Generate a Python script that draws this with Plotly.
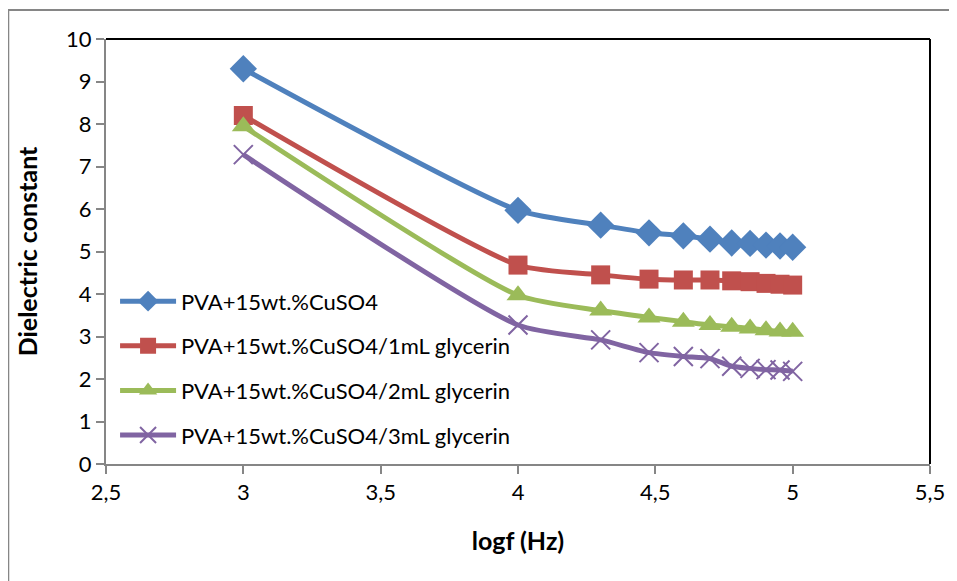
import plotly.graph_objects as go

logf = [3, 4, 4.301, 4.477, 4.602, 4.699, 4.778, 4.845, 4.903, 4.954, 5]
s0 = [9.3, 5.97, 5.62, 5.44, 5.37, 5.29, 5.2, 5.19, 5.15, 5.13, 5.1]
s1 = [8.2, 4.68, 4.45, 4.35, 4.33, 4.33, 4.31, 4.29, 4.25, 4.23, 4.21]
s2 = [7.95, 3.97, 3.61, 3.45, 3.35, 3.27, 3.23, 3.19, 3.15, 3.12, 3.11]
s3 = [7.28, 3.27, 2.92, 2.62, 2.53, 2.48, 2.3, 2.25, 2.22, 2.21, 2.18]
names = ["PVA+15wt.%CuSO4", "PVA+15wt.%CuSO4/1mL glycerin",
         "PVA+15wt.%CuSO4/2mL glycerin", "PVA+15wt.%CuSO4/3mL glycerin"]
x_ticks = [2.5, 3, 3.5, 4, 4.5, 5, 5.5]
y_ticks = list(range(0, 11))

colors = ["#4F81BD", "#C0504D", "#9BBB59", "#8064A2"]
symbols = ["diamond", "square", "triangle-up", "x-thin-open"]
sizes = [21, 19, 20, 19]

fig = go.Figure()
for i, ys in enumerate([s0, s1, s2, s3]):
    mk = dict(symbol=symbols[i], size=sizes[i], color=colors[i])
    if symbols[i] == "x-thin-open":
        mk["line"] = dict(color=colors[i], width=2)
    fig.add_trace(go.Scatter(
        x=logf, y=ys, name=names[i], mode="lines+markers",
        line=dict(color=colors[i], width=5, shape="spline", smoothing=0.6),
        marker=mk, legendgroup=f"g{i}"))

FONT = "Lato"
fig.update_layout(
    width=949, height=573,
    margin=dict(l=98, r=25, t=31, b=117),
    paper_bgcolor="white", plot_bgcolor="white",
    separators=",.",
    font=dict(family=FONT, size=22, color="black"),
    showlegend=True,
    legend=dict(x=0.011, y=0.432, xanchor="left", yanchor="top",
                bgcolor="rgba(0,0,0,0)", font=dict(size=22),
                traceorder="grouped", tracegroupgap=13, itemwidth=56),
    xaxis=dict(range=[2.5, 5.5], tickvals=x_ticks, showgrid=False, zeroline=False,
               showline=True, linecolor="#868686", linewidth=2,
               ticks="outside", ticklen=8, tickcolor="#868686", tickwidth=2,
               title=dict(text="<b>logf (Hz)</b>", font=dict(size=25), standoff=28)),
    yaxis=dict(range=[0, 10], tickvals=y_ticks, showgrid=False, zeroline=False,
               showline=True, linecolor="#868686", linewidth=2,
               ticks="outside", ticklen=8, tickcolor="#868686", tickwidth=2,
               title=dict(text="<b>Dielectric constant</b>", font=dict(size=25), standoff=21)),
    shapes=[
        dict(type="line", xref="paper", yref="paper", x0=0, x1=1, y0=1, y1=1,
             line=dict(color="black", width=2)),
        dict(type="line", xref="paper", yref="paper", x0=1, x1=1, y0=0, y1=1,
             line=dict(color="black", width=2)),
        dict(type="rect", xref="paper", yref="paper", x0=-0.1186, x1=1.2,
             y0=-0.5, y1=1.068, line=dict(color="#868686", width=2), layer="below"),
    ],
)
fig.write_html("out.html")
